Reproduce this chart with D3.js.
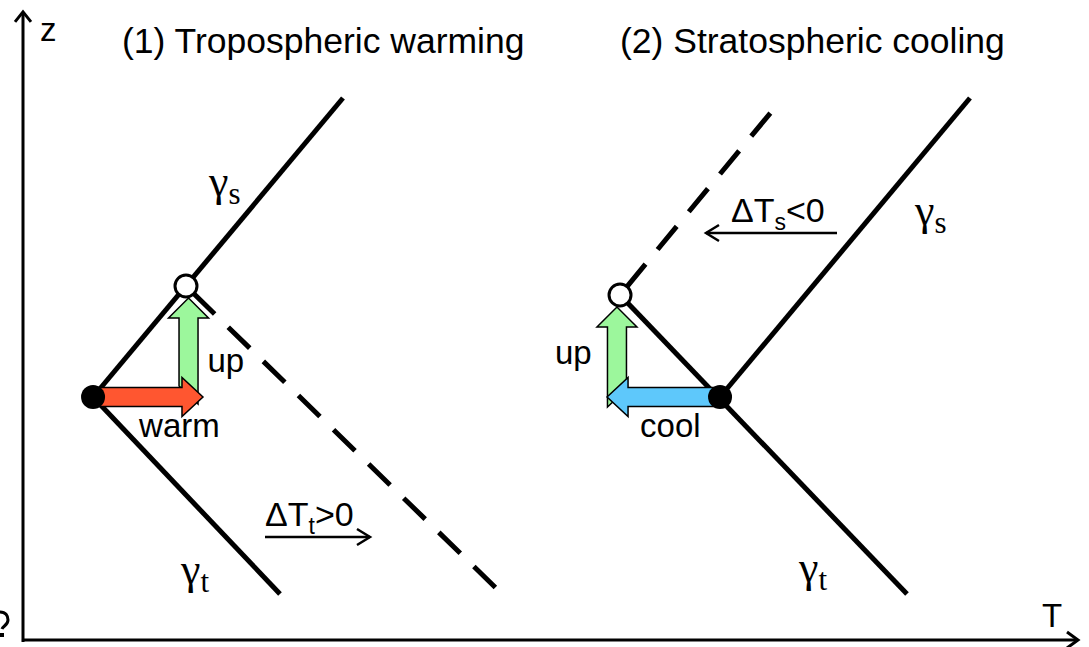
<!DOCTYPE html>
<html>
<head>
<meta charset="utf-8">
<script src="https://cdn.jsdelivr.net/npm/d3@7/dist/d3.min.js"></script>
<style>
  html, body { margin: 0; padding: 0; background: #fff; }
  svg { display: block; }
  .sans { font-family: "Liberation Sans", Arial, sans-serif; }
  .serif { font-family: "Liberation Serif", "Times New Roman", serif; }
</style>
</head>
<body>
<script>
// ---------- data (chart units: T horizontally, z vertically, 0..100) ----------
const titles = ["(1) Tropospheric warming", "(2) Stratospheric cooling"];
const axisLabels = ["z", "T"];

// Panel 1: tropospheric warming
const p1Stratosphere = [[6.64, 38.57], [30.33, 86.03]];   // gamma_s profile
const p1Troposphere  = [[6.64, 38.57], [24.36, 7.30]];    // gamma_t profile
const p1Dashed       = [[15.45, 56.19], [45.21, 7.62]];   // new troposphere profile
const p1OldTrop      = [6.64, 38.57];                     // old tropopause (filled)
const p1NewTrop      = [15.45, 56.19];                    // new tropopause (open)
const p1Warm         = [[6.64, 38.57], [17.06, 38.57]];
const p1Up           = [[15.69, 38.89], [15.69, 54.29]];

// Panel 2: stratospheric cooling
const p2Stratosphere = [[66.07, 38.57], [89.76, 86.03]];
const p2Troposphere  = [[56.59, 54.76], [83.79, 7.30]];
const p2Dashed       = [[56.59, 54.76], [71.47, 84.92]];
const p2OldTrop      = [66.07, 38.57];
const p2NewTrop      = [56.59, 54.76];
const p2Cool         = [[66.07, 38.57], [55.36, 38.57]];
const p2Up           = [[56.30, 38.41], [56.30, 52.86]];

// ---------- setup ----------
const W = 1089, H = 647;
const svg = d3.select("body").append("svg").attr("width", W).attr("height", H);
const x = d3.scaleLinear().domain([0, 100]).range([23, 1078]);
const y = d3.scaleLinear().domain([0, 100]).range([640, 10]);
const line = d3.line().x(d => x(d[0])).y(d => y(d[1]));

// ---------- axes ----------
const axG = svg.append("g").attr("stroke", "#000").attr("stroke-width", 3).attr("fill", "none");
axG.append("path").attr("d", line([[0, -0.3], [0, 99.7]]));
axG.append("path").attr("d", line([[-0.1, 0], [100, 0]]));
const tx = x(0), ty = y(99.7);
axG.append("path").attr("d", `M${tx - 8},${ty + 10} L${tx},${ty} L${tx + 8},${ty + 10}`);
const rx = x(100), ry = y(0);
axG.append("path").attr("d", `M${rx - 11},${ry - 8} L${rx},${ry} L${rx - 11},${ry + 8}`);

svg.append("text").attr("class", "sans").attr("x", x(0) + 17).attr("y", y(0) - 599)
  .attr("font-size", 33).text(axisLabels[0]);
svg.append("text").attr("class", "sans").attr("x", x(100) - 36).attr("y", y(0) - 13)
  .attr("font-size", 33).text(axisLabels[1]);
// cropped fragment at the lower-left edge of the original figure
svg.append("path").attr("d", "M0,612 C6,612 8,616 8,620 C8,625 3,626 2,629")
  .attr("fill", "none").attr("stroke", "#000").attr("stroke-width", 3);
svg.append("rect").attr("x", 0).attr("y", 633).attr("width", 4).attr("height", 4).attr("fill", "#000");

// ---------- titles ----------
svg.append("text").attr("class", "sans").attr("x", 122).attr("y", 53).attr("font-size", 35.5).text(titles[0]);
svg.append("text").attr("class", "sans").attr("x", 620).attr("y", 53).attr("font-size", 35.5).text(titles[1]);

// ---------- profile lines ----------
const lg = svg.append("g").attr("stroke", "#000").attr("stroke-width", 5).attr("fill", "none");
[p1Stratosphere, p1Troposphere, p2Stratosphere, p2Troposphere].forEach(d => lg.append("path").attr("d", line(d)));
[p1Dashed, p2Dashed].forEach(d => lg.append("path").attr("d", line(d)).attr("stroke-dasharray", "30,19").attr("stroke-dashoffset", -10));

// ---------- block arrows ----------
function hArrow(seg, color) {
  const x0 = x(seg[0][0]), x1 = x(seg[1][0]), yc = y(seg[0][1]);
  const dir = Math.sign(x1 - x0), sw = 9.5, hw = 19.5, hl = 21;
  const xb = x1 - dir * hl;
  const pts = [[x0, yc - sw], [xb, yc - sw], [xb, yc - hw], [x1, yc], [xb, yc + hw], [xb, yc + sw], [x0, yc + sw]];
  svg.append("polygon").attr("points", pts.map(p => p.join(",")).join(" "))
    .attr("fill", color).attr("stroke", "#000").attr("stroke-width", 1.5).attr("stroke-linejoin", "miter");
}
function vArrow(seg, color, slant) {
  const xc = x(seg[0][0]), y0 = y(seg[0][1]), y1 = y(seg[1][1]);
  const sw = 9.5, hw = 20, hl = 20;
  const yb = y1 + hl;
  const pts = [[xc - sw, y0 - slant], [xc - sw, yb], [xc - hw, yb], [xc, y1], [xc + hw, yb], [xc + sw, yb], [xc + sw, y0 + slant]];
  svg.append("polygon").attr("points", pts.map(p => p.join(",")).join(" "))
    .attr("fill", color).attr("stroke", "#000").attr("stroke-width", 1.5).attr("stroke-linejoin", "miter");
}
vArrow(p1Up, "#9cf79c", 9);
hArrow(p1Warm, "#ff5630");
vArrow(p2Up, "#9cf79c", -9);
hArrow(p2Cool, "#5ec8fb");

// ---------- tropopause points ----------
[p1OldTrop, p2OldTrop].forEach(d => svg.append("circle").attr("cx", x(d[0])).attr("cy", y(d[1])).attr("r", 12).attr("fill", "#000"));
[p1NewTrop, p2NewTrop].forEach(d => svg.append("circle").attr("cx", x(d[0])).attr("cy", y(d[1])).attr("r", 11)
  .attr("fill", "#fff").attr("stroke", "#000").attr("stroke-width", 3));

// ---------- labels ----------
function lbl(px, py, txt, size) {
  svg.append("text").attr("class", "sans").attr("x", px).attr("y", py).attr("font-size", size).text(txt);
}
lbl(x(p1Up[0][0]) + 19, y(p1OldTrop[1]) - 25, "up", 33);
lbl(x(p1OldTrop[0]) + 46, y(p1OldTrop[1]) + 40, "warm", 33);
lbl(x(p2Up[0][0]) - 62, y(p2OldTrop[1]) - 33, "up", 33);
lbl(x(p2OldTrop[0]) - 80, y(p2OldTrop[1]) + 40, "cool", 33);

function gamma(px, py, sub) {
  const t = svg.append("text").attr("class", "serif").attr("x", px).attr("y", py).attr("font-size", 44);
  t.append("tspan").text("γ");
  t.append("tspan").attr("font-size", 31).attr("dy", 8).text(sub);
}
gamma(x(p1Stratosphere[1][0]) - 134, y(p1Stratosphere[1][1]) + 98, "s");
gamma(x(p2Stratosphere[1][0]) - 55, y(p2Stratosphere[1][1]) + 127, "s");
gamma(x(p1Troposphere[1][0]) - 99, y(p1Troposphere[1][1]) - 10, "t");
gamma(x(p2Troposphere[1][0]) - 108, y(p2Troposphere[1][1]) - 12, "t");

function deltaLabel(px, py, sub, rest, ax0, ax1, ay) {
  const t = svg.append("text").attr("class", "sans").attr("x", px).attr("y", py).attr("font-size", 34);
  t.append("tspan").text("ΔT");
  t.append("tspan").attr("font-size", 23).attr("dy", 8).text(sub);
  t.append("tspan").attr("dy", -8).text(rest);
  const g = svg.append("g").attr("stroke", "#000").attr("stroke-width", 2.5).attr("fill", "none");
  g.append("line").attr("x1", ax0).attr("x2", ax1).attr("y1", ay).attr("y2", ay);
  const d = Math.sign(ax1 - ax0);
  g.append("path").attr("d", `M${ax1 - d * 13},${ay - 8} L${ax1},${ay} L${ax1 - d * 13},${ay + 8}`);
}
deltaLabel(265, 526, "t", ">0", 265, 370, 537);
deltaLabel(731, 222, "s", "<0", 837, 706, 233);
</script>
</body>
</html>
